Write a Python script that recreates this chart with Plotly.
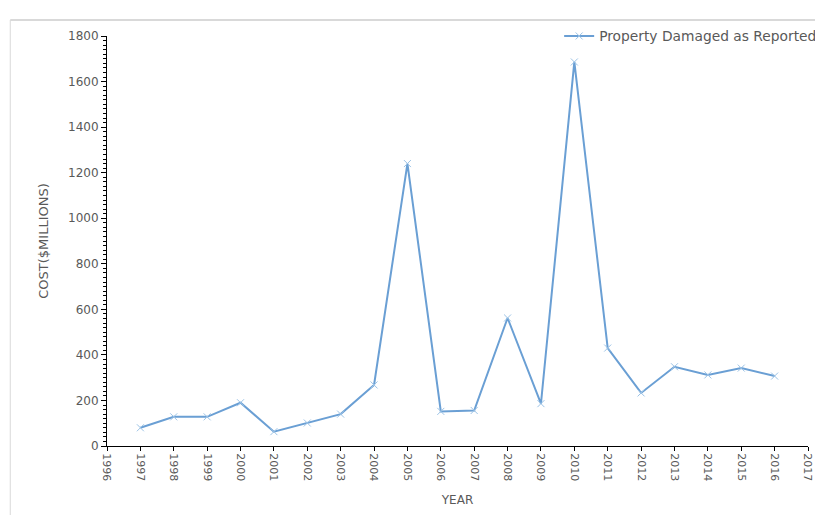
import plotly.graph_objects as go

# yearly cost of property damage, in $ millions
years = [1997, 1998, 1999, 2000, 2001, 2002, 2003, 2004, 2005, 2006,
         2007, 2008, 2009, 2010, 2011, 2012, 2013, 2014, 2015, 2016]
damage = [80, 128, 128, 190, 63, 101, 140, 268, 1240, 152,
          156, 562, 186, 1686, 430, 233, 348, 312, 342, 307]

series_name = "Property Damaged as Reported"
x_title = "YEAR"
y_title = "COST($MILLIONS)"

line_col = "#6a9fd4"
txt_col = "#595959"

fig = go.Figure()
fig.add_trace(go.Scatter(
    x=years, y=damage, name=series_name, mode="lines+markers",
    line=dict(color=line_col, width=2),
    marker=dict(symbol="x-thin", size=7, line=dict(color="#9cc3e6", width=1)),
))

# page body adds an 8px offset, so margins are shifted by that much
fig.update_layout(
    width=823, height=515,
    margin=dict(l=99, r=23, t=28, b=77, autoexpand=False),
    paper_bgcolor="white", plot_bgcolor="white",
    font=dict(family="DejaVu Sans, sans-serif", size=12, color=txt_col),
    showlegend=True,
    legend=dict(x=0.645, xanchor="left", y=1.0, yanchor="middle",
                bgcolor="rgba(0,0,0,0)", font=dict(size=13.8, color=txt_col)),
    xaxis=dict(
        range=[1996, 2017], dtick=1, tickangle=90, automargin=False,
        showline=True, linecolor="black", linewidth=1,
        ticks="outside", ticklen=4, tickcolor="black",
        tickfont=dict(size=11),
        showgrid=False, zeroline=False,
        title=dict(text=x_title, font=dict(size=12, color=txt_col), standoff=15),
    ),
    yaxis=dict(
        range=[0, 1800], dtick=200, automargin=False,
        showline=True, linecolor="black", linewidth=1,
        ticks="outside", ticklen=5, tickcolor="black",
        tickfont=dict(size=12),
        minor=dict(dtick=20, ticks="outside", ticklen=3, tickcolor="black"),
        showgrid=False, zeroline=False,
        title=dict(text=y_title, font=dict(size=13, color=txt_col), standoff=16),
    ),
    shapes=[
        # light frame of the chart area, as in the source image
        dict(type="line", xref="paper", yref="paper",
             x0=-0.138, x1=1.05, y0=1.039, y1=1.039,
             line=dict(color="#d9d9d9", width=2)),
        dict(type="line", xref="paper", yref="paper",
             x0=-0.138, x1=-0.138, y0=1.039, y1=-0.25,
             line=dict(color="#d9d9d9", width=1)),
    ],
)

fig.write_html("out.html")
